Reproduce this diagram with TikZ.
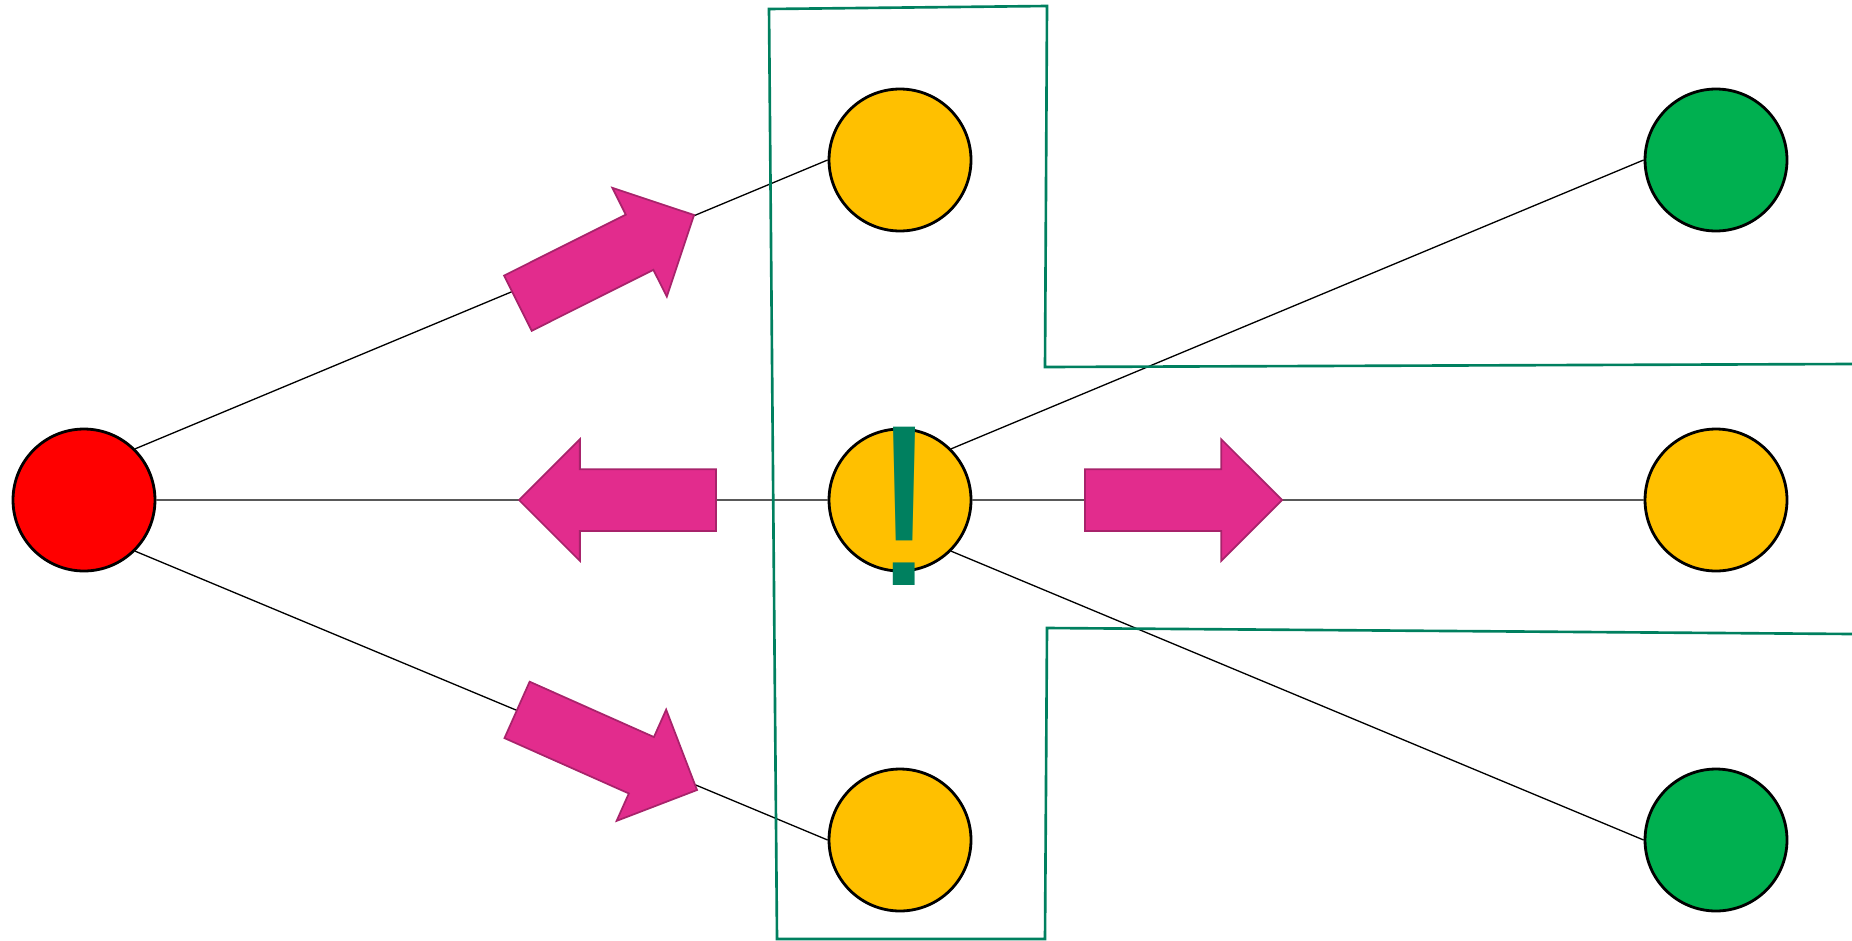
\documentclass[tikz,border=0pt]{standalone}
\usepackage{fontspec}
\newfontfamily\bangfont{Liberation Sans}
\usepackage{tikz}
\usetikzlibrary{shapes.arrows,positioning,calc}
\definecolor{stopred}{HTML}{FF0000}
\definecolor{waityellow}{HTML}{FFC000}
\definecolor{gogreen}{HTML}{00B050}
\definecolor{zonegreen}{HTML}{00805F}
\definecolor{pushpink}{HTML}{E22C8D}
\definecolor{pushedge}{HTML}{A8236B}
\definecolor{linkgray}{HTML}{595959}

\begin{document}
\begin{tikzpicture}[x=0.02cm,y=-0.02cm,
            state/.style={circle,draw=black,line width=1.6pt,minimum
              size=2.84cm,inner sep=0pt},
            link/.style={draw=black,line width=0.75pt},
            flat/.style={draw=linkgray,line width=1.3pt},
            push/.style={single arrow,draw=pushedge,fill=pushpink,line
              width=1pt,minimum height=3.94cm,inner xsep=0pt,inner
              ysep=0.6cm,single arrow head extend=0.6cm,single arrow tip
              angle=90,anchor=tip,outer sep=0pt},
            zone/.style={draw=zonegreen,line width=1.5pt}
            ]
            \useasboundingbox (0,0) rectangle (1852,940);
            \node[state,fill=stopred] (Src) at (84,500) {};
            \node[state,fill=waityellow] (HubTop) at (900,160) {};
            \node[state,fill=waityellow] (HubMid) at (900,500) {};
            \node[state,fill=waityellow] (HubBot) at (900,840) {};
            \node[state,fill=gogreen] (LeafTop) at (1716,160) {};
            \node[state,fill=waityellow] (LeafMid) at (1716,500) {};
            \node[state,fill=gogreen] (LeafBot) at (1716,840) {};
            \draw[link] (Src.north east) -- (HubTop.west);
            \draw[flat] (Src) -- (HubMid); \draw[link] (Src.south east)
            -- (HubBot.west); \draw[link] (HubMid.north east) --
            (LeafTop.west); \draw[flat] (HubMid) -- (LeafMid);
            \draw[link] (HubMid.south east) -- (LeafBot.west);
            \node[push,rotate=26.6] (PushTop) at (694,215) {};
            \node[push,rotate=180] (PushBack) at (519,500) {};
            \node[push,rotate=-24] (PushBot) at (697,790) {};
            \node[push] (PushOn) at (1282,500) {};
            \node[text=zonegreen,inner sep=0pt,anchor=base] (Bang) at
            (904,585) {\bangfont\fontsize{131pt}{131pt}\selectfont !};
            \draw[zone] (1852,364) -- (1045,367) -- (1047,6) -- (769,9)
            -- (777,939) -- (1045,939) -- (1047,628) -- (1852,634);
          \end{tikzpicture}
\end{document}
